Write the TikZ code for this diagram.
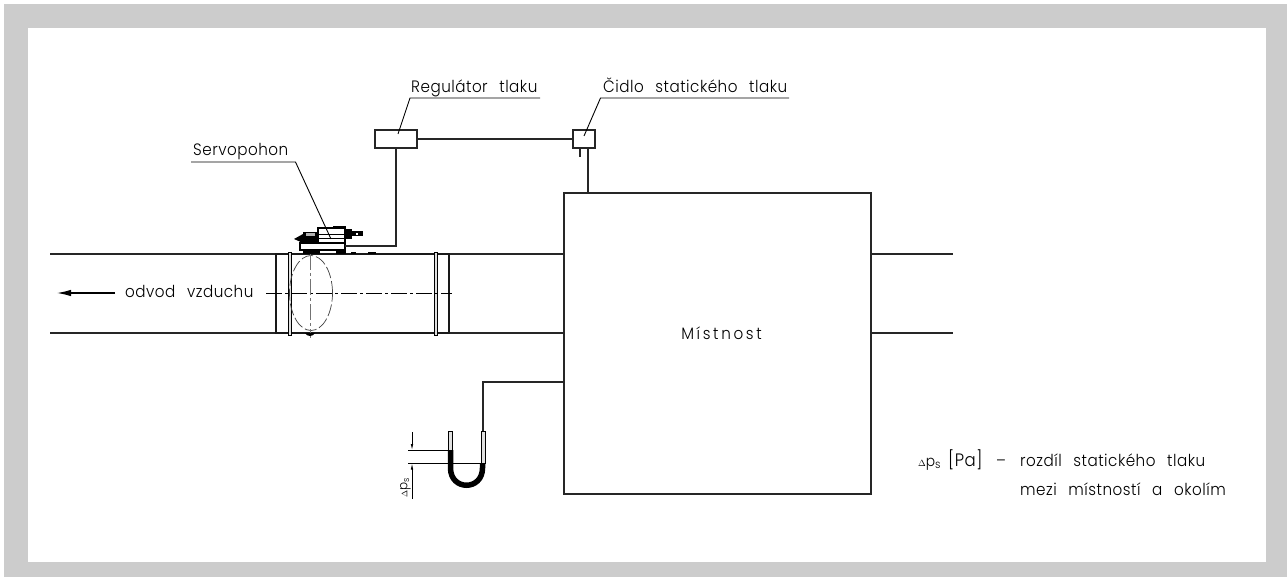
\documentclass[tikz,border=0pt]{standalone}
\usepackage{fontspec}
\setmainfont{Poppins}[UprightFont=* Light,FakeStretch=0.92,LetterSpace=3,WordSpace=2.5]
\newfontfamily\widefont{Poppins}[UprightFont=* Light,FakeStretch=0.92,LetterSpace=16]
\usetikzlibrary{arrows.meta}

\tikzset{
  duct/.style={line width=1.2pt, draw=black!85},
  wire/.style={line width=1.3pt, draw=black!85},
  leader/.style={line width=0.9pt, draw=black},
  box/.style={draw=black!85, line width=1.4pt, fill=white, inner sep=0pt, minimum height=18pt},
  axisline/.style={line width=0.7pt, dash pattern=on 16pt off 3pt on 3pt off 3pt},
  label/.style={anchor=base west, inner sep=0pt, font=\fontsize{16.5}{18}\selectfont, text=black},
}

\begin{document}
\begin{tikzpicture}[x=1pt,y=-1pt]
    \useasboundingbox (0,0) rectangle (1287,577);
    % frame
    \fill[black!20] (4,4) rectangle (1287,577);
    \fill[white] (28,28) rectangle (1266,561.5);

    % duct and room
    \node[box, minimum width=307pt, minimum height=301pt] (room) at (717.5,343.5) {};
    \node[label, anchor=base] (roomname) at (721.5,339) {\widefont Místnost};
    \coordinate (ductA) at (50,254);
    \coordinate (ductB) at (50,333);
    \coordinate (ductC) at (953,254);
    \coordinate (ductD) at (953,333);
    \draw[duct] (ductA) -- (ductA -| room.west);
    \draw[duct] (ductB) -- (ductB -| room.west);
    \draw[duct] (ductC -| room.east) -- (ductC);
    \draw[duct] (ductD -| room.east) -- (ductD);

    % damper
    \draw[line width=1.5pt, black!90] (276,254) rectangle (449,333);
    \draw[line width=0.9pt, fill=black!12] (288,252.5) rectangle (291,335);
    \draw[line width=0.9pt, fill=black!12] (434,252.5) rectangle (437,335);
    \draw[line width=0.7pt, black!75, dash pattern=on 12pt off 3pt] (311,293) ellipse (21.5pt and 37.5pt);
    \draw[axisline] (266,293) -- (452,293);
    \draw[axisline, black!55] (310,254) -- (310,338);
    \fill[black] (305,333) .. controls (307,337) and (313,337) .. (315,333) -- cycle;

    % servo drive
    \draw[line width=1.4pt] (318,228) rectangle (345,243);
    \draw[line width=0.9pt] (318,234) -- (345,234);
    \draw[line width=0.9pt] (318,238) -- (345,238);
    \draw[line width=1.3pt] (333,226.5) -- (346,226.5);
    \fill[black] (345,229) rectangle (352,239);
    \fill[black] (352,231.5) rectangle (363,236.5);
    \fill[white] (356,233) rectangle (358,235);
    \fill[black] (303,232) rectangle (318,242);
    \fill[black] (294,239) -- (303,234) -- (303,243) -- cycle;
    \fill[black!30] (306,233.5) rectangle (315,236);
    \draw[line width=1.3pt] (300,243) rectangle (345,250);
    \fill[black] (303,250) rectangle (320,254);
    \fill[black] (336,250) rectangle (346,254);
    \fill[black] (351,252) rectangle (356,254);
    \fill[black] (368,252) rectangle (376,254);
    \coordinate (servo) at (345,246);

    % regulator and sensor
    \node[box, minimum width=42pt] (regulator) at (396,139) {};
    \node[box, minimum width=22pt] (sensor) at (584,139) {};
    \coordinate (tap) at (588,193);
    \coordinate (stub) at (580,157);
    \draw[wire] (regulator) -- (sensor);
    \draw[wire] (regulator.south) |- (servo);
    \draw[wire] (tap |- sensor.south) -- (tap);
    \draw[wire] (stub |- sensor.south) -- (stub);

    % labels with leaders
    \node[label] (servolabel) at (193,156) {Servopohon};
    \node[label] (regulatorlabel) at (411,93) {Regulátor tlaku};
    \node[label] (sensorlabel) at (603,93) {Čidlo statického tlaku};
    \draw[leader] (331,239) -- (295.5,162) -- (191,162);
    \draw[leader] (398,134) -- (410,98) -- (540,98);
    \draw[leader] (584,136) -- (600.5,98) -- (789,98);

    % flow direction
    \node[label] (flowlabel) at (125,297.5) {odvod vzduchu};
    \coordinate (flowend) at (57,293);
    \draw[line width=1.2pt, -{Latex[length=14pt,width=6.5pt]}] (115,293) -- (flowend);

    % manometer
    \coordinate (tube) at (483,382);
    \draw[wire] (tube -| room.west) -- (tube) -- (483,431);
    \draw[line width=0.9pt, fill=black!12] (448,431) rectangle (452,450);
    \draw[line width=0.9pt, fill=black!12] (481.5,431) rectangle (485,463);
    \draw[line width=5.5pt, black] (450.5,450) -- (450.5,468) .. controls (450.5,491) and (482.5,491) .. (482.5,468) -- (482.5,463);
    \draw[line width=0.8pt] (408,450) -- (448,450);
    \draw[line width=0.8pt] (408,463.5) -- (480,463.5);
    \draw[line width=0.7pt, -{Latex[length=6pt,width=2.5pt]}] (412,432) -- (412,450);
    \draw[line width=0.7pt, -{Latex[length=6pt,width=2.5pt]}] (412,499) -- (412,463.5);
    \node[inner sep=0pt, rotate=90, font=\fontsize{13}{14}\selectfont] (dplabel) at (405.5,487.5) {{\fontsize{8}{9}\selectfont$\Delta$}p\textsubscript{s}};

    % legend
    \node[label] (legendsym) at (918,466) {{\fontsize{9}{9}\selectfont$\Delta$}{\fontsize{15}{16}\selectfont p}\textsubscript{s}};
    \node[label, font=\fontsize{18}{18}\selectfont] (legendunit) at (948,466) {[Pa]};
    \node[label] (legenddash) at (996,466) {--};
    \node[label] (legendone) at (1020,466) {rozdíl statického tlaku};
    \node[label] (legendtwo) at (1020,495) {mezi místností a okolím};
\end{tikzpicture}
\end{document}
